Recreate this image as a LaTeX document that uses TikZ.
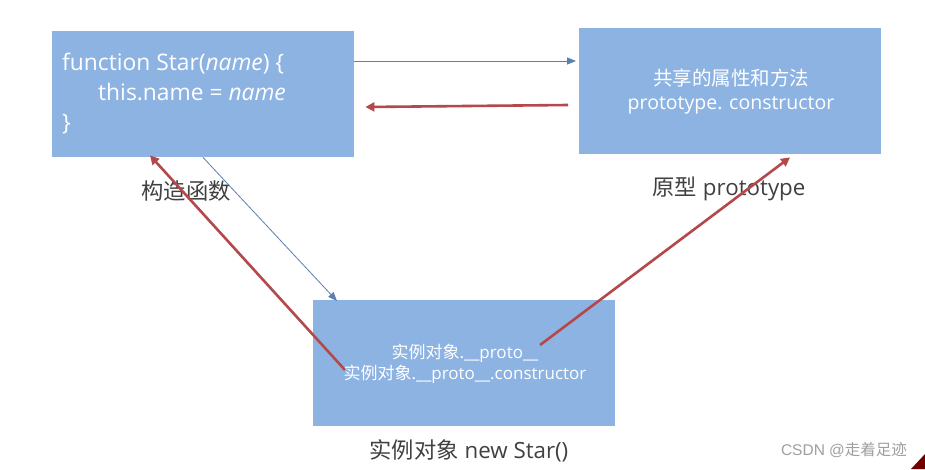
\documentclass[tikz,border=0pt]{standalone}
\usepackage{fontspec}
\setmainfont{Open Sans}
\newfontfamily\cjk{Noto Sans CJK SC}
\newfontfamily\latfont{Open Sans}
\newfontfamily\arialfont{Liberation Sans}
\usetikzlibrary{arrows.meta,calc}
\definecolor{boxfill}{HTML}{8DB3E2}
\definecolor{bluearr}{HTML}{5A7FB0}
\definecolor{redarr}{HTML}{B5484A}
\definecolor{labgray}{HTML}{404040}
\tikzset{
  box/.style={fill=boxfill, draw=none, minimum width=302pt, minimum height=126pt, inner sep=0pt, text=white, align=center},
  boxtext/.style={text=white, align=center, inner sep=0pt},
  blueline/.style={draw=bluearr, line width=0.8pt, -{Triangle[length=9pt,width=7pt]}},
  redline/.style={draw=redarr, line width=2.6pt, -{Triangle[length=9pt,width=9pt]}},
  lab/.style={text=labgray, font=\latfont\fontsize{22.3}{26}\selectfont, inner sep=0pt},
}
\begin{document}
\begin{tikzpicture}[x=1pt,y=-1pt]
\useasboundingbox[fill=white] (0,0) rectangle (925,469);
\node[box, anchor=north west] (A) at (52,31) {};
\node[anchor=north west, text=white, align=left, inner sep=0pt, font=\latfont\fontsize{22.8}{30}\selectfont] (At) at (62,53) {function Star(\textit{name}) \{\\\hspace{36pt}this.name = \textit{name}\\\}};
\node[box, anchor=north west] (B) at (579,28) {};
\node[boxtext, font=\latfont\fontsize{19.5}{24}\selectfont] (Bt) at (731,92) {{\cjk 共享的属性和方法}\\prototype. constructor};
\node[box, anchor=north west] (C) at (313,300) {};
\node[boxtext, font=\latfont\fontsize{17}{21}\selectfont] (Ct) at (465,364) {{\cjk 实例对象}.\_\_proto\_\_\\{\cjk 实例对象}.\_\_proto\_\_.constructor};
\node[lab] (LA) at (186,191) {{\cjk 构造函数}};
\node[lab] (LB) at (729,189) {{\cjk 原型} prototype};
\node[lab] (LC) at (469,451) {{\cjk 实例对象} new Star()};
\node[text=gray!75, font=\arialfont\fontsize{15.5}{17}\selectfont, inner sep=0pt] (W) at (844,450) {CSDN @{\cjk 走着足迹}};
% connectors
\coordinate (p1) at ($(A.north east)+(0,30)$);
\coordinate (q1) at ($(B.north west)+(-3,33)$);
\draw[blueline] (p1) -- (q1);
\coordinate (p2) at ($(B.north west)+(-11,77)$);
\coordinate (q2) at ($(A.north east)+(11,76)$);
\draw[redline] (p2) -- (q2);
\coordinate (p3) at ($(A.south west)+(151,0)$);
\coordinate (q3) at ($(C.north west)+(24,1)$);
\draw[blueline] (p3) -- (q3);
\coordinate (p4) at ($(C.north west)+(32,70)$);
\coordinate (q4) at ($(A.south west)+(98,-2)$);
\draw[redline] (p4) -- (q4);
\coordinate (p5) at ($(C.north west)+(227,45)$);
\coordinate (q5) at ($(B.south west)+(211,3)$);
\draw[redline] (p5) -- (q5);
\fill[red!45!black] (911,469) -- (925,454) -- (925,469) -- cycle;
\end{tikzpicture}
\end{document}
